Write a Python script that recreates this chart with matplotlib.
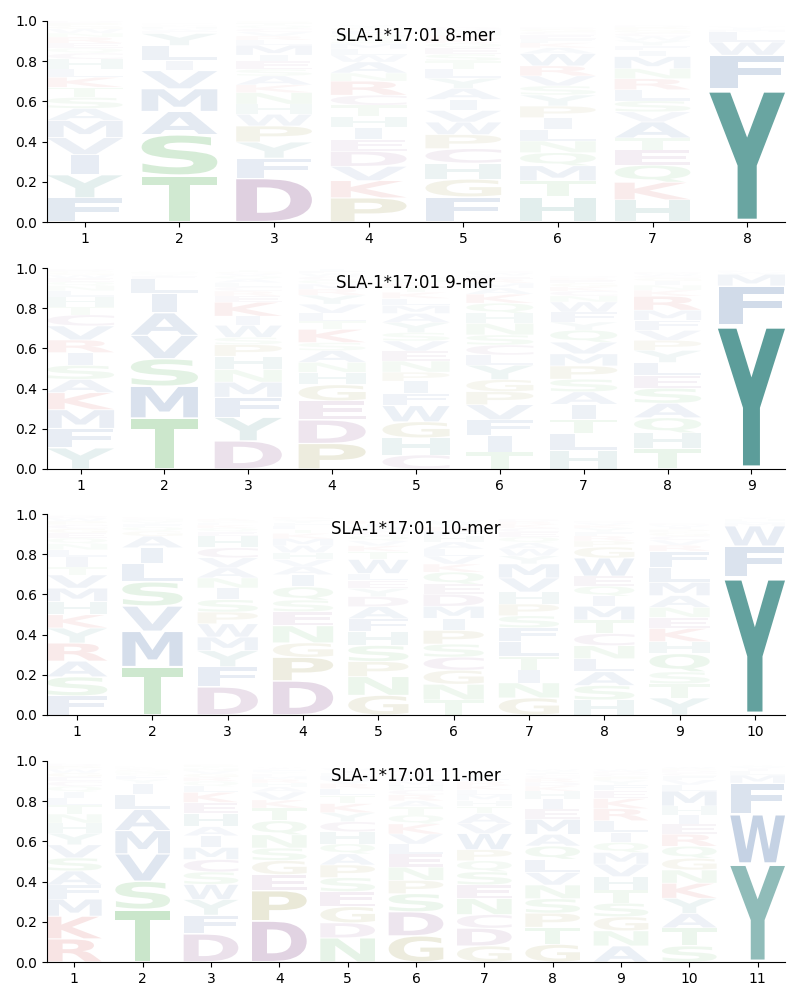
import matplotlib
matplotlib.use("Agg")
import matplotlib.pyplot as plt
from matplotlib.textpath import TextPath
from matplotlib.font_manager import FontProperties
from matplotlib.patches import PathPatch
from matplotlib.transforms import Affine2D

allele = "SLA-1*17:01"
peptide_lengths = [8, 9, 10, 11]

# letters per position, listed bottom -> top; heights are frequencies
letters_8mer = [
    "FYIVMASTKLHCQERNWGPD",
    "TSAMVILYFWHNQKREGPCD",
    "DFYPWHNKASEIMLRVCQTG",
    "PKVDEIHTCRNAWLMSQFGY",
    "FGHCPWVIAYLTSEQKRNMD",
    "HTMQNLIPYSVRWAKFECGD",
    "HKQETAVSLRNMIFYWCGPD",
    "YFWLMIVHA",
]
heights_8mer = [
    [.12, .115, .10, .085, .085, .06, .055, .05, .05, .04, .05, .03, .025, .025, .03, .02, .02, .015, .015, .012],
    [.232, .203, .115, .113, .09, .05, .075, .06, .012, .01, .008, .006, .005, .004, .003, .003, .002, .002, .002, .002],
    [.218, .10, .08, .08, .058, .05, .058, .038, .045, .033, .04, .03, .05, .025, .02, .02, .018, .015, .012, .01],
    [.12, .086, .071, .075, .058, .06, .056, .055, .05, .07, .04, .055, .035, .03, .028, .025, .02, .018, .015, .012],
    [.125, .088, .08, .072, .07, .062, .058, .055, .055, .05, .045, .04, .035, .03, .025, .02, .018, .015, .015, .012],
    [.125, .08, .075, .065, .058, .058, .058, .058, .055, .045, .05, .05, .06, .03, .025, .02, .02, .015, .012, .01],
    [.11, .088, .085, .075, .06, .08, .05, .055, .055, .055, .05, .06, .03, .025, .025, .02, .018, .015, .012, .01],
    [.66, .17, .065, .05, .012, .008, .006, .004, .003],
]

letters_9mer = [
    "YFMKASIRVCTHLNQEWGPD",
    "TMSVAILFYQNGCK",
    "DYFMNHPSWIKERCLAQVGT",
    "PDEGHNASKTLVYRMQCWFI",
    "CHGWFIPNEVSYAMLKTRQD",
    "TIFVPGYLCSNHQKAMREWD",
    "HLTIASPMVQYFWNCKGERD",
    "THQASELYPVFMRKNIGCWD",
    "YFMWLH",
]
heights_9mer = [
    [.105, .097, .093, .085, .066, .07, .063, .063, .07, .055, .04, .05, .03, .025, .02, .018, .015, .012, .01, .008],
    [.253, .159, .137, .116, .112, .096, .074, .012, .01, .006, .005, .004, .003, .002],
    [.14, .117, .10, .075, .063, .066, .058, .036, .06, .045, .07, .03, .025, .022, .02, .018, .015, .012, .01, .008],
    [.127, .117, .095, .08, .062, .05, .058, .04, .066, .04, .04, .045, .045, .03, .025, .02, .018, .015, .012, .01],
    [.07, .085, .08, .08, .062, .06, .045, .055, .05, .05, .042, .05, .045, .04, .035, .03, .025, .02, .02, .01],
    [.085, .08, .08, .075, .065, .06, .072, .05, .05, .05, .058, .05, .05, .045, .03, .025, .02, .018, .012, .01],
    [.09, .085, .072, .075, .062, .063, .066, .06, .058, .06, .04, .05, .05, .03, .025, .02, .018, .015, .012, .01],
    [.10, .08, .075, .072, .075, .062, .066, .06, .05, .05, .05, .05, .07, .03, .025, .02, .015, .012, .01, .008],
    [.716, .195, .058, .01, .006, .004],
]

letters_10mer = [
    "FSARYKHMVTILNQEGCPWD",
    "TMVSLIAGQFYNCK",
    "DFYMWPSINAVCHEQKLGRT",
    "DPGNESQIAVHWMKTLFYCR",
    "GNPSHFADYELWTKVQCMIR",
    "TNGCSPIMDEQKVLAHFRYW",
    "GNITLFSPHVMYWAQECKRD",
    "HSALNCTMIQEWGPRFYKVD",
    "YTSQHKENAMLFRVCGPIWD",
    "YFWMLHIA",
]
heights_10mer = [
    [.095, .095, .078, .09, .075, .066, .066, .066, .066, .04, .05, .035, .03, .028, .025, .022, .02, .018, .015, .012],
    [.24, .177, .125, .12, .09, .08, .058, .025, .02, .015, .012, .01, .008, .006],
    [.14, .10, .08, .068, .066, .058, .062, .058, .05, .05, .05, .05, .058, .022, .018, .015, .012, .01, .008, .006],
    [.17, .117, .072, .085, .07, .058, .066, .06, .04, .035, .035, .035, .035, .025, .02, .018, .015, .012, .01, .008],
    [.098, .093, .075, .08, .068, .065, .06, .05, .04, .04, .035, .07, .04, .028, .025, .025, .022, .02, .018, .015],
    [.075, .078, .07, .065, .065, .068, .06, .06, .06, .05, .06, .04, .04, .035, .035, .03, .025, .02, .018, .015],
    [.085, .075, .063, .068, .075, .068, .06, .058, .06, .07, .07, .04, .035, .03, .028, .025, .02, .018, .015, .012],
    [.075, .072, .068, .065, .065, .06, .068, .068, .05, .05, .05, .09, .055, .03, .025, .02, .018, .015, .012, .01],
    [.085, .07, .06, .09, .06, .066, .055, .05, .058, .066, .075, .08, .03, .025, .02, .018, .015, .012, .01, .008],
    [.686, .155, .10, .015, .01, .008, .006, .004],
]

letters_11mer = [
    "RKMFASVYHNTLIQCEGWPD",
    "TSVMALIYFQNGCKRE",
    "DFYWSCMIAHEKLQRGVNTP",
    "DPEGSNQTKVAHRMLYFCIW",
    "NDGESPAQHCYKTLRVMFIW",
    "GDSPNELVKQTARCHMFYIW",
    "GDCNESQPWVATHMLKRFYI",
    "GTPSNVLQAMEIHKDRCFYW",
    "ANGSTHVMQILRKEFYPCDW",
    "STAYKNGQREIHMLVFCDPW",
    "YWFMLIVHA",
]
heights_11mer = [
    [.115, .113, .085, .07, .07, .065, .065, .058, .05, .045, .045, .035, .03, .028, .025, .022, .02, .018, .015, .012],
    [.262, .14, .136, .116, .105, .075, .055, .02, .018, .012, .01, .008, .006, .005, .004, .003],
    [.14, .093, .078, .075, .062, .062, .06, .058, .045, .066, .055, .05, .03, .025, .02, .018, .015, .012, .01, .008],
    [.205, .15, .08, .07, .062, .066, .07, .063, .04, .04, .025, .02, .018, .015, .012, .01, .008, .006, .005, .004],
    [.12, .075, .08, .075, .07, .063, .055, .05, .06, .05, .045, .045, .04, .035, .025, .02, .018, .015, .012, .01],
    [.13, .12, .09, .066, .066, .065, .05, .05, .05, .045, .04, .03, .03, .025, .022, .02, .018, .015, .012, .01],
    [.08, .088, .068, .08, .068, .065, .055, .055, .08, .05, .05, .035, .03, .028, .025, .022, .02, .018, .015, .012],
    [.088, .085, .07, .072, .068, .062, .066, .066, .058, .075, .05, .05, .04, .025, .02, .018, .015, .012, .01, .008],
    [.08, .075, .07, .068, .066, .066, .062, .058, .05, .05, .058, .06, .05, .04, .03, .02, .018, .015, .012, .01],
    [.08, .09, .072, .075, .075, .066, .058, .06, .06, .05, .045, .045, .075, .03, .025, .02, .015, .012, .01, .008],
    [.49, .245, .155, .04, .02, .012, .008, .006, .004],
]

aa_colors = {
    "Y": "#509692", "H": "#509692",
    "A": "#4b73aa", "V": "#4b73aa", "L": "#4b73aa", "I": "#4b73aa",
    "M": "#4b73aa", "F": "#4b73aa", "W": "#4b73aa",
    "S": "#64b867", "T": "#64b867", "N": "#64b867", "Q": "#64b867",
    "D": "#915a94", "E": "#915a94", "C": "#915a94",
    "K": "#d25050", "R": "#d25050",
    "P": "#968f3c", "G": "#968f3c",
}

all_letters = [letters_8mer, letters_9mer, letters_10mer, letters_11mer]
all_heights = [heights_8mer, heights_9mer, heights_10mer, heights_11mer]

fp = FontProperties(family="DejaVu Sans", weight="bold")
COL_W = 0.8
VPAD = 0.05
ref_bb = TextPath((0, 0), "E", size=1, prop=fp).get_extents()
max_sx = COL_W / ref_bb.width


def draw_letter(ax, ch, xc, y0, h, color, alpha):
    tp = TextPath((0, 0), ch, size=1, prop=fp)
    bb = tp.get_extents()
    sx = min(COL_W / bb.width, max_sx)
    gw = bb.width * sx
    gh = h * (1 - VPAD)
    t = (Affine2D().translate(-bb.x0, -bb.y0)
         .scale(sx, gh / bb.height)
         .translate(xc - gw / 2, y0 + h * VPAD / 2))
    path = t.transform_path(tp)
    ax.add_patch(PathPatch(path, facecolor=color, edgecolor="none",
                           lw=0, alpha=alpha))


fig = plt.figure(figsize=(8, 10), dpi=100)
tops_px = [21, 268, 514, 761]
for k, L in enumerate(peptide_lengths):
    bottom = 1 - (tops_px[k] + 201) / 1000
    ax = fig.add_axes([47 / 800, bottom, 738 / 800, 201 / 1000])
    letters = all_letters[k]
    heights = all_heights[k]
    for pos in range(L):
        y = 0.0
        for ch, h in zip(letters[pos], heights[pos]):
            alpha = min(1.0, 1.3 * h)
            draw_letter(ax, ch, pos + 1, y, h, aa_colors[ch], alpha)
            y += h
    ax.set_xlim(0.6, L + 0.4)
    ax.set_ylim(0, 1)
    ax.set_xticks(range(1, L + 1))
    ax.set_yticks([0, 0.2, 0.4, 0.6, 0.8, 1.0])
    ax.spines["top"].set_visible(False)
    ax.spines["right"].set_visible(False)
    ax.text(0.5, 0.925, f"{allele} {L}-mer", transform=ax.transAxes,
            ha="center", va="center", fontsize=12, zorder=5)

fig.savefig("out.png", dpi=100)
